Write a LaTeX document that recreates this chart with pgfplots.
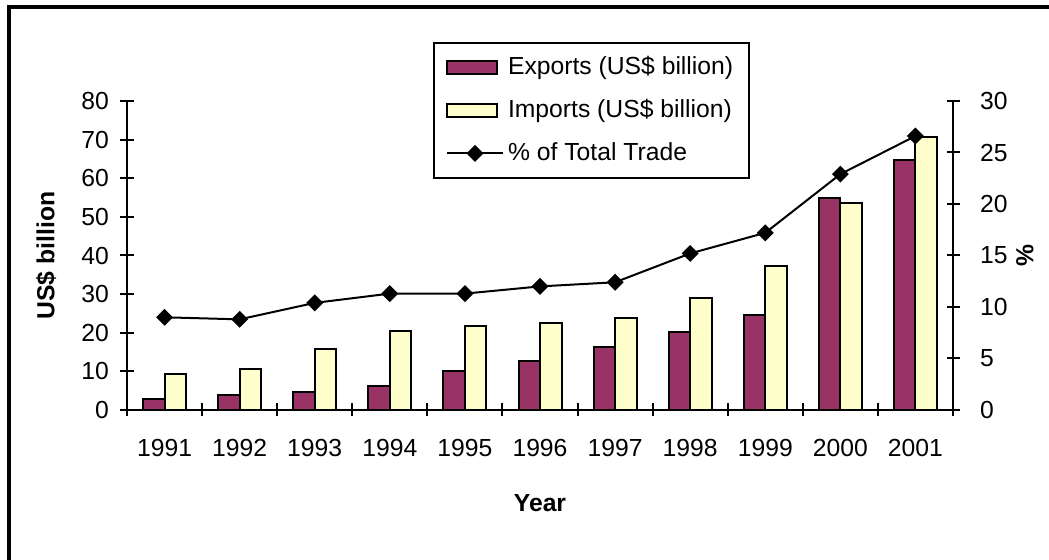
\documentclass[border=0pt]{standalone}
\usepackage{pgfplots}
\pgfplotsset{compat=1.18}
\usepackage{fontspec}
\setmainfont{Liberation Sans}
\definecolor{exportc}{HTML}{993366}
\definecolor{importc}{HTML}{FFFFCC}
\pgfplotsset{
  barlegend/.style={legend image code/.code={\draw[##1,line width=1bp] (0bp,-3.4bp) rectangle (25bp,3.4bp);}},
  linelegend/.style={legend image code/.code={\draw[mark repeat=2,mark phase=2,##1] plot coordinates {(0bp,0bp)(14bp,0bp)(28bp,0bp)};}},
}
\newcommand{\fs}{\fontsize{12.4}{14.8}\selectfont}
\begin{document}
\fs
\begin{tikzpicture}
\useasboundingbox (0,0) rectangle (524.5bp,280bp);
\draw[line width=1.6bp] (4.5bp,-2bp) -- (4.5bp,276.5bp) -- (530bp,276.5bp);
\begin{axis}[
  at={(63.5bp,75bp)}, anchor=south west, scale only axis,
  width=413bp, height=154.5bp,
  xmin=-0.5, xmax=10.5, ymin=0, ymax=80,
  axis y line*=left, axis x line*=bottom,
  axis line style={-, line width=1bp},
  xtick={0,...,10},
  xticklabels={1991,1992,1993,1994,1995,1996,1997,1998,1999,2000,2001},
  major x tick style={draw=none},
  minor xtick={-0.5,0.5,...,10.5},
  ytick={0,10,...,80},
  tick align=center,
  major tick length=6.5bp, minor tick length=6.5bp,
  tick style={line width=1bp, black},
  /pgf/number format/assume math mode=true,
  ticklabel style={font=\fs},
  xticklabel style={yshift=-7bp},
  yticklabel style={xshift=-1.5bp},
  xlabel={\bfseries Year},
  ylabel={\bfseries US\$ billion},
  every axis x label/.style={at={(axis description cs:0.5,-0.301)}, anchor=center, font=\fs},
  every axis y label/.style={at={(axis description cs:-0.098,0.5)}, rotate=90, anchor=center, font=\fs},
  legend style={at={(0.3705,1.192)}, anchor=north west, draw=black, line width=1bp,
    font=\fs, row sep=6.5bp, inner xsep=6bp, inner ysep=5bp},
  legend cell align=left,
  clip=false,
]
\addplot[ybar, bar width=10.75bp, bar shift=-5.375bp, fill=exportc, draw=black, line width=1bp, barlegend]
  coordinates {(0,2.8) (1,3.9) (2,4.6) (3,6.2) (4,10.1) (5,12.6) (6,16.2) (7,20.1) (8,24.5) (9,54.8) (10,64.7)};
\addlegendentry{Exports (US\$ billion)}
\addplot[ybar, bar width=10.75bp, bar shift=5.375bp, fill=importc, draw=black, line width=1bp, barlegend]
  coordinates {(0,9.3) (1,10.5) (2,15.7) (3,20.5) (4,21.7) (5,22.4) (6,23.7) (7,29.1) (8,37.4) (9,53.6) (10,70.8)};
\addlegendentry{Imports (US\$ billion)}
\addlegendimage{black, line width=1bp, mark=square*, mark size=2.5bp, mark options={rotate=45, solid}, linelegend}
\addlegendentry{\% of Total Trade}
\end{axis}
\begin{axis}[
  at={(63.5bp,75bp)}, anchor=south west, scale only axis,
  width=413bp, height=154.5bp,
  xmin=-0.5, xmax=10.5, ymin=0, ymax=30,
  axis y line*=right, axis x line=none,
  axis line style={-, line width=1bp},
  ytick={0,5,...,30},
  tick align=center,
  major tick length=6.5bp,
  tick style={line width=1bp, black},
  /pgf/number format/assume math mode=true,
  ticklabel style={font=\fs},
  yticklabel style={xshift=6bp},
  ylabel={\bfseries \%},
  every axis y label/.style={at={(axis description cs:1.087,0.5)}, rotate=90, anchor=center, font=\fs},
  clip=false,
]
\addplot[black, line width=1bp, mark=square*, mark size=2.5bp, mark options={rotate=45, solid}]
  coordinates {(0,9.0) (1,8.8) (2,10.4) (3,11.3) (4,11.3) (5,12.0) (6,12.4) (7,15.2) (8,17.2) (9,22.9) (10,26.6)};
\end{axis}
\end{tikzpicture}
\end{document}
